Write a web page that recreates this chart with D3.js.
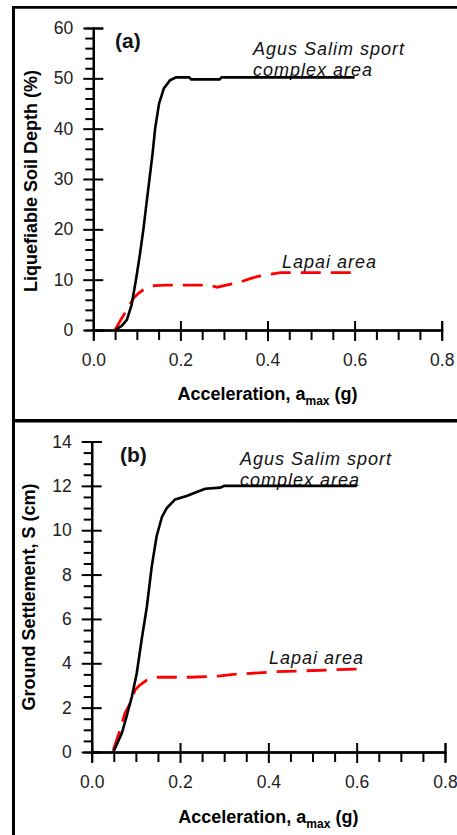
<!DOCTYPE html>
<html>
<head>
<meta charset="utf-8">
<script src="https://cdn.jsdelivr.net/npm/d3@7"></script>
<style>
  body { margin: 0; background: #fff; }
  text { font-family: Arial, "Liberation Sans", sans-serif; }
</style>
</head>
<body>
<div id="chart"></div>
<script>
// x values shared by both panels
var accelTicks = [0, 0.2, 0.4, 0.6, 0.8];
var accelMinor = [0.05, 0.1, 0.15, 0.25, 0.3, 0.35, 0.45, 0.5, 0.55, 0.65, 0.7, 0.75];

// panel (a) - liquefiable soil depth (%)
var depthTicks = [0, 10, 20, 30, 40, 50, 60];
var depthMinor = [2, 4, 6, 8, 12, 14, 16, 18, 22, 24, 26, 28, 32, 34, 36, 38, 42, 44, 46, 48, 52, 54, 56, 58];
var agusDepth = [[0.05,0],[0.065,0.8],[0.077,2],[0.088,5],[0.098,10],[0.107,15],[0.115,20],[0.122,25],
  [0.129,30],[0.136,35],[0.142,40],[0.151,45],[0.162,48],[0.176,49.6],[0.19,50.2],[0.22,50.2],
  [0.225,49.8],[0.29,49.8],[0.295,50.2],[0.6,50.2]];
var lapaiDepth = [[0.05,0],[0.063,2],[0.077,4],[0.092,6.3],[0.105,7.4],[0.115,8],[0.127,8.5],[0.14,8.8],
  [0.17,8.9],[0.265,8.9],[0.285,8.5],[0.3,8.8],[0.32,9.2],[0.34,9.6],[0.36,10.2],[0.38,10.7],
  [0.4,11],[0.43,11.4],[0.6,11.4]];

// panel (b) - ground settlement (cm)
var settleTicks = [0, 2, 4, 6, 8, 10, 12, 14];
var settleMinor = [0.5, 1, 1.5, 2.5, 3, 3.5, 4.5, 5, 5.5, 6.5, 7, 7.5, 8.5, 9, 9.5, 10.5, 11, 11.5, 12.5, 13, 13.5];
var agusSettle = [[0.049,0],[0.068,0.83],[0.079,1.6],[0.091,2.5],[0.102,3.55],[0.113,5.05],[0.125,6.56],
  [0.136,8.37],[0.147,9.73],[0.159,10.6],[0.17,11.0],[0.189,11.39],[0.215,11.54],[0.238,11.72],
  [0.257,11.87],[0.291,11.92],[0.3,12.0],[0.6,12.0]];
var lapaiSettle = [[0.049,0.08],[0.064,0.98],[0.075,1.74],[0.087,2.19],[0.098,2.79],[0.109,3.02],
  [0.125,3.24],[0.147,3.37],[0.223,3.37],[0.26,3.4],[0.291,3.43],[0.321,3.5],[0.42,3.62],[0.6,3.74]];

var svg = d3.select("#chart")
  .append("svg")
  .attr("width", 457)
  .attr("height", 835);

svg.append("rect").attr("width", 457).attr("height", 835).attr("fill", "#fff");

// frame lines round the two panels
svg.append("line").attr("x1", 12).attr("x2", 457).attr("y1", 7.3).attr("y2", 7.3)
  .attr("stroke", "#000").attr("stroke-width", 2.7);
svg.append("line").attr("x1", 13.5).attr("x2", 13.5).attr("y1", 6).attr("y2", 835)
  .attr("stroke", "#000").attr("stroke-width", 3);
svg.append("line").attr("x1", 12).attr("x2", 457).attr("y1", 420.8).attr("y2", 420.8)
  .attr("stroke", "#000").attr("stroke-width", 3.5);

function drawPanel(p){
  var g = svg.append("g");

  var x = d3.scaleLinear().domain([0, 0.8]).range([p.left, p.right]);
  var y = d3.scaleLinear().domain([0, p.ymax]).range([p.bottom, p.top]);

  // x axis: major ticks cross the line, minor ones hang below
  g.append("g")
    .attr("transform", "translate(0," + p.bottom + ")")
    .call(d3.axisBottom(x).tickValues(accelTicks).tickSizeInner(11).tickSizeOuter(0)
      .tickPadding(13).tickFormat(d3.format(".1f")));
  g.append("g")
    .attr("transform", "translate(0," + p.bottom + ")")
    .call(d3.axisTop(x).tickValues(accelTicks.slice(1)).tickSize(9).tickFormat(""));
  g.append("g")
    .attr("transform", "translate(0," + p.bottom + ")")
    .call(d3.axisBottom(x).tickValues(accelMinor).tickSize(10).tickFormat(""));

  // y axis
  g.append("g")
    .attr("transform", "translate(" + p.left + ",0)")
    .call(d3.axisLeft(y).tickValues(p.ticks).tickSizeInner(10).tickSizeOuter(0).tickPadding(10));
  g.append("g")
    .attr("transform", "translate(" + p.left + ",0)")
    .call(d3.axisRight(y).tickValues(p.ticks).tickSize(10).tickFormat(""));
  g.append("g")
    .attr("transform", "translate(" + p.left + ",0)")
    .call(d3.axisLeft(y).tickValues(p.minor).tickSize(8).tickFormat(""));

  g.selectAll(".domain, .tick line")
    .attr("stroke", "#000")
    .attr("stroke-width", 2);
  g.selectAll(".tick text")
    .attr("font-size", 17.5)
    .attr("fill", "#222");

  // axis titles
  var xt = g.append("text")
    .attr("x", (p.left + p.right) / 2)
    .attr("y", p.xTitleY)
    .attr("text-anchor", "middle")
    .attr("font-size", 18)
    .attr("font-weight", "bold");
  xt.append("tspan").text("Acceleration, a");
  xt.append("tspan").attr("font-size", 12).attr("dy", 5).text("max");
  xt.append("tspan").attr("dy", -5).text(" (g)");

  g.append("text")
    .attr("transform", "translate(" + p.yTitleX + "," + p.yTitleY + ") rotate(-90)")
    .attr("text-anchor", "middle")
    .attr("font-size", 18)
    .attr("font-weight", "bold")
    .text(p.yTitle);

  // panel letter and curve labels
  g.append("text")
    .attr("x", p.tagX).attr("y", p.tagY)
    .attr("font-size", 21).attr("font-weight", "bold").attr("fill", "#111")
    .text(p.tag);

  var lab = g.append("g")
    .attr("font-size", 18)
    .attr("font-style", "italic")
    .attr("letter-spacing", 1)
    .attr("fill", "#111");
  lab.append("text").attr("x", p.agusX).attr("y", p.agusY).text("Agus Salim sport");
  lab.append("text").attr("x", p.agusX).attr("y", p.agusY + 20.5).text("complex area");
  lab.append("text").attr("x", p.lapaiX).attr("y", p.lapaiY).text("Lapai area");

  var line = d3.line()
    .x(function(d) { return x(d[0]); })
    .y(function(d) { return y(d[1]); });

  g.append("path")
    .attr("d", line(p.lapai))
    .attr("fill", "none")
    .attr("stroke", "#ff0000")
    .attr("stroke-width", 2.8)
    .attr("stroke-dasharray", "20,10");

  g.append("path")
    .attr("d", line(p.agus))
    .attr("fill", "none")
    .attr("stroke", "#000")
    .attr("stroke-width", 2.6);
}

drawPanel({
  left: 93.3, right: 441.7, top: 28, bottom: 330, ymax: 60,
  ticks: depthTicks, minor: depthMinor,
  agus: agusDepth, lapai: lapaiDepth,
  yTitle: "Liquefiable Soil Depth (%)", yTitleX: 37, yTitleY: 181, xTitleY: 400,
  tag: "(a)", tagX: 115, tagY: 48,
  agusX: 253, agusY: 55, lapaiX: 282, lapaiY: 268
});

drawPanel({
  left: 91.7, right: 445, top: 441.5, bottom: 752, ymax: 14,
  ticks: settleTicks, minor: settleMinor,
  agus: agusSettle, lapai: lapaiSettle,
  yTitle: "Ground Settlement, S (cm)", yTitleX: 35, yTitleY: 597, xTitleY: 823,
  tag: "(b)", tagX: 120, tagY: 462,
  agusX: 240, agusY: 465, lapaiX: 269, lapaiY: 664
});
</script>
</body>
</html>
